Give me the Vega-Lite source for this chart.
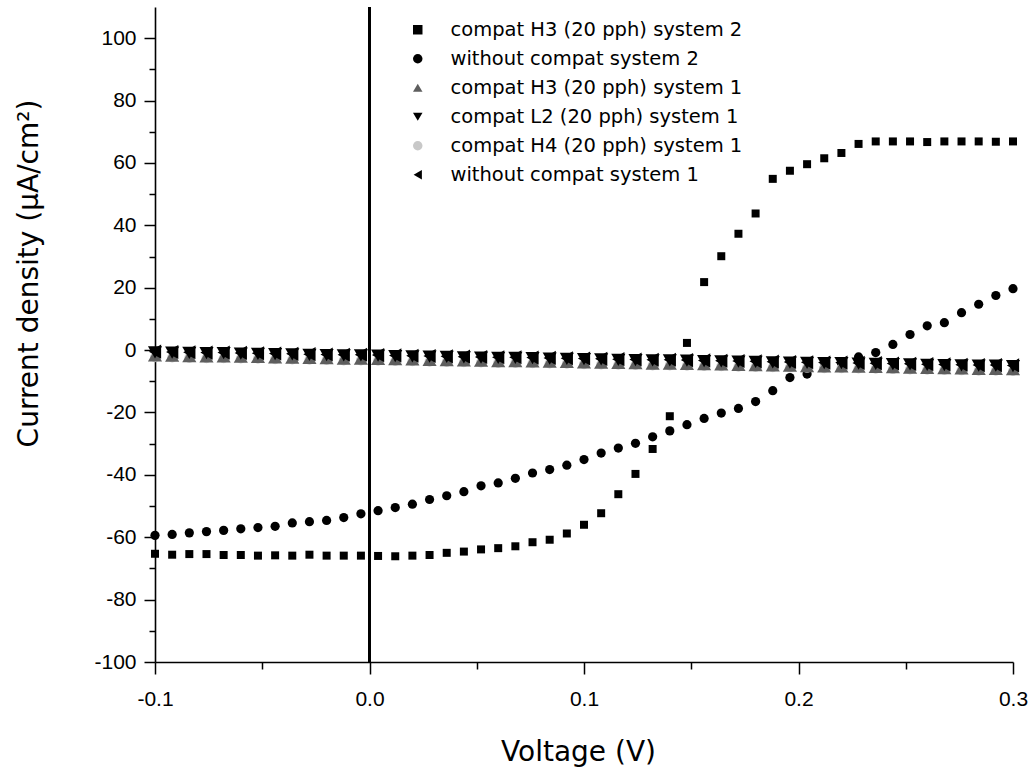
{
  "$schema": "https://vega.github.io/schema/vega-lite/v6.json",
  "autosize": {"type": "none"},
  "padding": {"left": 155, "top": 7, "right": 19, "bottom": 112},
  "width": 858,
  "height": 655,
  "background": "white",
  "config": {
    "view": {"stroke": null},
    "axis": {
      "grid": false,
      "domainColor": "black",
      "domainWidth": 1.6,
      "tickColor": "black",
      "tickWidth": 1.5,
      "labelColor": "black",
      "titleColor": "black",
      "labelFont": "Liberation Sans",
      "labelFontSize": 21,
      "titleFont": "DejaVu Sans",
      "titleFontSize": 28,
      "titleFontWeight": "normal"
    },
    "legend": {
      "labelFont": "DejaVu Sans",
      "labelFontSize": 19.5,
      "labelColor": "black",
      "labelLimit": 0,
      "symbolSize": 90
    }
  },
  "data": {
    "values": [
      {"series": "compat H3 (20 pph) system 2", "voltage": -0.1, "current": -65.3},
      {"series": "compat H3 (20 pph) system 2", "voltage": -0.092, "current": -65.6},
      {"series": "compat H3 (20 pph) system 2", "voltage": -0.084, "current": -65.4},
      {"series": "compat H3 (20 pph) system 2", "voltage": -0.076, "current": -65.4},
      {"series": "compat H3 (20 pph) system 2", "voltage": -0.068, "current": -65.7},
      {"series": "compat H3 (20 pph) system 2", "voltage": -0.06, "current": -65.7},
      {"series": "compat H3 (20 pph) system 2", "voltage": -0.052, "current": -65.9},
      {"series": "compat H3 (20 pph) system 2", "voltage": -0.044, "current": -65.8},
      {"series": "compat H3 (20 pph) system 2", "voltage": -0.036, "current": -65.9},
      {"series": "compat H3 (20 pph) system 2", "voltage": -0.028, "current": -65.6},
      {"series": "compat H3 (20 pph) system 2", "voltage": -0.02, "current": -65.9},
      {"series": "compat H3 (20 pph) system 2", "voltage": -0.012, "current": -65.9},
      {"series": "compat H3 (20 pph) system 2", "voltage": -0.004, "current": -65.9},
      {"series": "compat H3 (20 pph) system 2", "voltage": 0.004, "current": -66.0},
      {"series": "compat H3 (20 pph) system 2", "voltage": 0.012, "current": -66.1},
      {"series": "compat H3 (20 pph) system 2", "voltage": 0.02, "current": -65.9},
      {"series": "compat H3 (20 pph) system 2", "voltage": 0.028, "current": -65.7},
      {"series": "compat H3 (20 pph) system 2", "voltage": 0.036, "current": -65.0},
      {"series": "compat H3 (20 pph) system 2", "voltage": 0.044, "current": -64.6},
      {"series": "compat H3 (20 pph) system 2", "voltage": 0.052, "current": -63.9},
      {"series": "compat H3 (20 pph) system 2", "voltage": 0.06, "current": -63.5},
      {"series": "compat H3 (20 pph) system 2", "voltage": 0.068, "current": -62.9},
      {"series": "compat H3 (20 pph) system 2", "voltage": 0.076, "current": -61.6},
      {"series": "compat H3 (20 pph) system 2", "voltage": 0.084, "current": -60.8},
      {"series": "compat H3 (20 pph) system 2", "voltage": 0.092, "current": -58.8},
      {"series": "compat H3 (20 pph) system 2", "voltage": 0.1, "current": -56.0},
      {"series": "compat H3 (20 pph) system 2", "voltage": 0.108, "current": -52.3},
      {"series": "compat H3 (20 pph) system 2", "voltage": 0.116, "current": -46.2},
      {"series": "compat H3 (20 pph) system 2", "voltage": 0.124, "current": -39.7},
      {"series": "compat H3 (20 pph) system 2", "voltage": 0.132, "current": -31.7},
      {"series": "compat H3 (20 pph) system 2", "voltage": 0.14, "current": -21.2},
      {"series": "compat H3 (20 pph) system 2", "voltage": 0.148, "current": 2.3},
      {"series": "compat H3 (20 pph) system 2", "voltage": 0.156, "current": 21.8},
      {"series": "compat H3 (20 pph) system 2", "voltage": 0.164, "current": 30.1},
      {"series": "compat H3 (20 pph) system 2", "voltage": 0.172, "current": 37.3},
      {"series": "compat H3 (20 pph) system 2", "voltage": 0.18, "current": 43.8},
      {"series": "compat H3 (20 pph) system 2", "voltage": 0.188, "current": 54.9},
      {"series": "compat H3 (20 pph) system 2", "voltage": 0.196, "current": 57.5},
      {"series": "compat H3 (20 pph) system 2", "voltage": 0.204, "current": 59.6},
      {"series": "compat H3 (20 pph) system 2", "voltage": 0.212, "current": 61.5},
      {"series": "compat H3 (20 pph) system 2", "voltage": 0.22, "current": 63.2},
      {"series": "compat H3 (20 pph) system 2", "voltage": 0.228, "current": 66.1},
      {"series": "compat H3 (20 pph) system 2", "voltage": 0.236, "current": 66.9},
      {"series": "compat H3 (20 pph) system 2", "voltage": 0.244, "current": 66.9},
      {"series": "compat H3 (20 pph) system 2", "voltage": 0.252, "current": 66.9},
      {"series": "compat H3 (20 pph) system 2", "voltage": 0.26, "current": 66.7},
      {"series": "compat H3 (20 pph) system 2", "voltage": 0.268, "current": 66.9},
      {"series": "compat H3 (20 pph) system 2", "voltage": 0.276, "current": 66.9},
      {"series": "compat H3 (20 pph) system 2", "voltage": 0.284, "current": 66.9},
      {"series": "compat H3 (20 pph) system 2", "voltage": 0.292, "current": 66.8},
      {"series": "compat H3 (20 pph) system 2", "voltage": 0.3, "current": 66.9},

      {"series": "without compat system 2", "voltage": -0.1, "current": -59.4},
      {"series": "without compat system 2", "voltage": -0.092, "current": -59.1},
      {"series": "without compat system 2", "voltage": -0.084, "current": -58.6},
      {"series": "without compat system 2", "voltage": -0.076, "current": -58.2},
      {"series": "without compat system 2", "voltage": -0.068, "current": -57.8},
      {"series": "without compat system 2", "voltage": -0.06, "current": -57.3},
      {"series": "without compat system 2", "voltage": -0.052, "current": -56.9},
      {"series": "without compat system 2", "voltage": -0.044, "current": -56.5},
      {"series": "without compat system 2", "voltage": -0.036, "current": -55.4},
      {"series": "without compat system 2", "voltage": -0.028, "current": -55.0},
      {"series": "without compat system 2", "voltage": -0.02, "current": -54.6},
      {"series": "without compat system 2", "voltage": -0.012, "current": -53.7},
      {"series": "without compat system 2", "voltage": -0.004, "current": -52.5},
      {"series": "without compat system 2", "voltage": 0.004, "current": -51.5},
      {"series": "without compat system 2", "voltage": 0.012, "current": -50.5},
      {"series": "without compat system 2", "voltage": 0.02, "current": -49.4},
      {"series": "without compat system 2", "voltage": 0.028, "current": -47.9},
      {"series": "without compat system 2", "voltage": 0.036, "current": -46.7},
      {"series": "without compat system 2", "voltage": 0.044, "current": -45.4},
      {"series": "without compat system 2", "voltage": 0.052, "current": -43.5},
      {"series": "without compat system 2", "voltage": 0.06, "current": -42.6},
      {"series": "without compat system 2", "voltage": 0.068, "current": -41.1},
      {"series": "without compat system 2", "voltage": 0.076, "current": -39.4},
      {"series": "without compat system 2", "voltage": 0.084, "current": -38.3},
      {"series": "without compat system 2", "voltage": 0.092, "current": -36.9},
      {"series": "without compat system 2", "voltage": 0.1, "current": -35.1},
      {"series": "without compat system 2", "voltage": 0.108, "current": -33.0},
      {"series": "without compat system 2", "voltage": 0.116, "current": -31.4},
      {"series": "without compat system 2", "voltage": 0.124, "current": -29.9},
      {"series": "without compat system 2", "voltage": 0.132, "current": -27.8},
      {"series": "without compat system 2", "voltage": 0.14, "current": -25.9},
      {"series": "without compat system 2", "voltage": 0.148, "current": -23.9},
      {"series": "without compat system 2", "voltage": 0.156, "current": -21.9},
      {"series": "without compat system 2", "voltage": 0.164, "current": -20.2},
      {"series": "without compat system 2", "voltage": 0.172, "current": -18.7},
      {"series": "without compat system 2", "voltage": 0.18, "current": -16.5},
      {"series": "without compat system 2", "voltage": 0.188, "current": -13.0},
      {"series": "without compat system 2", "voltage": 0.196, "current": -8.8},
      {"series": "without compat system 2", "voltage": 0.204, "current": -7.7},
      {"series": "without compat system 2", "voltage": 0.212, "current": -5.6},
      {"series": "without compat system 2", "voltage": 0.22, "current": -4.2},
      {"series": "without compat system 2", "voltage": 0.228, "current": -2.2},
      {"series": "without compat system 2", "voltage": 0.236, "current": -0.8},
      {"series": "without compat system 2", "voltage": 0.244, "current": 1.8},
      {"series": "without compat system 2", "voltage": 0.252, "current": 5.0},
      {"series": "without compat system 2", "voltage": 0.26, "current": 7.8},
      {"series": "without compat system 2", "voltage": 0.268, "current": 8.8},
      {"series": "without compat system 2", "voltage": 0.276, "current": 12.0},
      {"series": "without compat system 2", "voltage": 0.284, "current": 14.7},
      {"series": "without compat system 2", "voltage": 0.292, "current": 17.5},
      {"series": "without compat system 2", "voltage": 0.3, "current": 19.7},

      {"series": "compat H4 (20 pph) system 1", "voltage": -0.1, "current": -2.3},
      {"series": "compat H4 (20 pph) system 1", "voltage": -0.092, "current": -2.4},
      {"series": "compat H4 (20 pph) system 1", "voltage": -0.084, "current": -2.5},
      {"series": "compat H4 (20 pph) system 1", "voltage": -0.076, "current": -2.6},
      {"series": "compat H4 (20 pph) system 1", "voltage": -0.068, "current": -2.6},
      {"series": "compat H4 (20 pph) system 1", "voltage": -0.06, "current": -2.7},
      {"series": "compat H4 (20 pph) system 1", "voltage": -0.052, "current": -2.8},
      {"series": "compat H4 (20 pph) system 1", "voltage": -0.044, "current": -2.9},
      {"series": "compat H4 (20 pph) system 1", "voltage": -0.036, "current": -3.0},
      {"series": "compat H4 (20 pph) system 1", "voltage": -0.028, "current": -3.1},
      {"series": "compat H4 (20 pph) system 1", "voltage": -0.02, "current": -3.2},
      {"series": "compat H4 (20 pph) system 1", "voltage": -0.012, "current": -3.3},
      {"series": "compat H4 (20 pph) system 1", "voltage": -0.004, "current": -3.3},
      {"series": "compat H4 (20 pph) system 1", "voltage": 0.004, "current": -3.4},
      {"series": "compat H4 (20 pph) system 1", "voltage": 0.012, "current": -3.5},
      {"series": "compat H4 (20 pph) system 1", "voltage": 0.02, "current": -3.6},
      {"series": "compat H4 (20 pph) system 1", "voltage": 0.028, "current": -3.7},
      {"series": "compat H4 (20 pph) system 1", "voltage": 0.036, "current": -3.8},
      {"series": "compat H4 (20 pph) system 1", "voltage": 0.044, "current": -3.9},
      {"series": "compat H4 (20 pph) system 1", "voltage": 0.052, "current": -4.0},
      {"series": "compat H4 (20 pph) system 1", "voltage": 0.06, "current": -4.1},
      {"series": "compat H4 (20 pph) system 1", "voltage": 0.068, "current": -4.1},
      {"series": "compat H4 (20 pph) system 1", "voltage": 0.076, "current": -4.2},
      {"series": "compat H4 (20 pph) system 1", "voltage": 0.084, "current": -4.3},
      {"series": "compat H4 (20 pph) system 1", "voltage": 0.092, "current": -4.4},
      {"series": "compat H4 (20 pph) system 1", "voltage": 0.1, "current": -4.5},
      {"series": "compat H4 (20 pph) system 1", "voltage": 0.108, "current": -4.6},
      {"series": "compat H4 (20 pph) system 1", "voltage": 0.116, "current": -4.7},
      {"series": "compat H4 (20 pph) system 1", "voltage": 0.124, "current": -4.8},
      {"series": "compat H4 (20 pph) system 1", "voltage": 0.132, "current": -4.9},
      {"series": "compat H4 (20 pph) system 1", "voltage": 0.14, "current": -4.9},
      {"series": "compat H4 (20 pph) system 1", "voltage": 0.148, "current": -5.0},
      {"series": "compat H4 (20 pph) system 1", "voltage": 0.156, "current": -5.1},
      {"series": "compat H4 (20 pph) system 1", "voltage": 0.164, "current": -5.2},
      {"series": "compat H4 (20 pph) system 1", "voltage": 0.172, "current": -5.3},
      {"series": "compat H4 (20 pph) system 1", "voltage": 0.18, "current": -5.4},
      {"series": "compat H4 (20 pph) system 1", "voltage": 0.188, "current": -5.5},
      {"series": "compat H4 (20 pph) system 1", "voltage": 0.196, "current": -5.6},
      {"series": "compat H4 (20 pph) system 1", "voltage": 0.204, "current": -5.7},
      {"series": "compat H4 (20 pph) system 1", "voltage": 0.212, "current": -5.8},
      {"series": "compat H4 (20 pph) system 1", "voltage": 0.22, "current": -5.8},
      {"series": "compat H4 (20 pph) system 1", "voltage": 0.228, "current": -5.9},
      {"series": "compat H4 (20 pph) system 1", "voltage": 0.236, "current": -6.0},
      {"series": "compat H4 (20 pph) system 1", "voltage": 0.244, "current": -6.1},
      {"series": "compat H4 (20 pph) system 1", "voltage": 0.252, "current": -6.2},
      {"series": "compat H4 (20 pph) system 1", "voltage": 0.26, "current": -6.3},
      {"series": "compat H4 (20 pph) system 1", "voltage": 0.268, "current": -6.4},
      {"series": "compat H4 (20 pph) system 1", "voltage": 0.276, "current": -6.5},
      {"series": "compat H4 (20 pph) system 1", "voltage": 0.284, "current": -6.6},
      {"series": "compat H4 (20 pph) system 1", "voltage": 0.292, "current": -6.6},
      {"series": "compat H4 (20 pph) system 1", "voltage": 0.3, "current": -6.7},

      {"series": "compat H3 (20 pph) system 1", "voltage": -0.1, "current": -1.7},
      {"series": "compat H3 (20 pph) system 1", "voltage": -0.092, "current": -1.8},
      {"series": "compat H3 (20 pph) system 1", "voltage": -0.084, "current": -1.9},
      {"series": "compat H3 (20 pph) system 1", "voltage": -0.076, "current": -2.0},
      {"series": "compat H3 (20 pph) system 1", "voltage": -0.068, "current": -2.0},
      {"series": "compat H3 (20 pph) system 1", "voltage": -0.06, "current": -2.1},
      {"series": "compat H3 (20 pph) system 1", "voltage": -0.052, "current": -2.2},
      {"series": "compat H3 (20 pph) system 1", "voltage": -0.044, "current": -2.3},
      {"series": "compat H3 (20 pph) system 1", "voltage": -0.036, "current": -2.4},
      {"series": "compat H3 (20 pph) system 1", "voltage": -0.028, "current": -2.5},
      {"series": "compat H3 (20 pph) system 1", "voltage": -0.02, "current": -2.6},
      {"series": "compat H3 (20 pph) system 1", "voltage": -0.012, "current": -2.7},
      {"series": "compat H3 (20 pph) system 1", "voltage": -0.004, "current": -2.7},
      {"series": "compat H3 (20 pph) system 1", "voltage": 0.004, "current": -2.8},
      {"series": "compat H3 (20 pph) system 1", "voltage": 0.012, "current": -2.9},
      {"series": "compat H3 (20 pph) system 1", "voltage": 0.02, "current": -3.0},
      {"series": "compat H3 (20 pph) system 1", "voltage": 0.028, "current": -3.1},
      {"series": "compat H3 (20 pph) system 1", "voltage": 0.036, "current": -3.2},
      {"series": "compat H3 (20 pph) system 1", "voltage": 0.044, "current": -3.3},
      {"series": "compat H3 (20 pph) system 1", "voltage": 0.052, "current": -3.4},
      {"series": "compat H3 (20 pph) system 1", "voltage": 0.06, "current": -3.5},
      {"series": "compat H3 (20 pph) system 1", "voltage": 0.068, "current": -3.5},
      {"series": "compat H3 (20 pph) system 1", "voltage": 0.076, "current": -3.6},
      {"series": "compat H3 (20 pph) system 1", "voltage": 0.084, "current": -3.7},
      {"series": "compat H3 (20 pph) system 1", "voltage": 0.092, "current": -3.8},
      {"series": "compat H3 (20 pph) system 1", "voltage": 0.1, "current": -3.9},
      {"series": "compat H3 (20 pph) system 1", "voltage": 0.108, "current": -4.0},
      {"series": "compat H3 (20 pph) system 1", "voltage": 0.116, "current": -4.1},
      {"series": "compat H3 (20 pph) system 1", "voltage": 0.124, "current": -4.2},
      {"series": "compat H3 (20 pph) system 1", "voltage": 0.132, "current": -4.3},
      {"series": "compat H3 (20 pph) system 1", "voltage": 0.14, "current": -4.3},
      {"series": "compat H3 (20 pph) system 1", "voltage": 0.148, "current": -4.4},
      {"series": "compat H3 (20 pph) system 1", "voltage": 0.156, "current": -4.5},
      {"series": "compat H3 (20 pph) system 1", "voltage": 0.164, "current": -4.6},
      {"series": "compat H3 (20 pph) system 1", "voltage": 0.172, "current": -4.7},
      {"series": "compat H3 (20 pph) system 1", "voltage": 0.18, "current": -4.8},
      {"series": "compat H3 (20 pph) system 1", "voltage": 0.188, "current": -4.9},
      {"series": "compat H3 (20 pph) system 1", "voltage": 0.196, "current": -5.0},
      {"series": "compat H3 (20 pph) system 1", "voltage": 0.204, "current": -5.1},
      {"series": "compat H3 (20 pph) system 1", "voltage": 0.212, "current": -5.2},
      {"series": "compat H3 (20 pph) system 1", "voltage": 0.22, "current": -5.2},
      {"series": "compat H3 (20 pph) system 1", "voltage": 0.228, "current": -5.3},
      {"series": "compat H3 (20 pph) system 1", "voltage": 0.236, "current": -5.4},
      {"series": "compat H3 (20 pph) system 1", "voltage": 0.244, "current": -5.5},
      {"series": "compat H3 (20 pph) system 1", "voltage": 0.252, "current": -5.6},
      {"series": "compat H3 (20 pph) system 1", "voltage": 0.26, "current": -5.7},
      {"series": "compat H3 (20 pph) system 1", "voltage": 0.268, "current": -5.8},
      {"series": "compat H3 (20 pph) system 1", "voltage": 0.276, "current": -5.9},
      {"series": "compat H3 (20 pph) system 1", "voltage": 0.284, "current": -6.0},
      {"series": "compat H3 (20 pph) system 1", "voltage": 0.292, "current": -6.0},
      {"series": "compat H3 (20 pph) system 1", "voltage": 0.3, "current": -6.1},

      {"series": "compat L2 (20 pph) system 1", "voltage": -0.1, "current": -0.7},
      {"series": "compat L2 (20 pph) system 1", "voltage": -0.092, "current": -0.8},
      {"series": "compat L2 (20 pph) system 1", "voltage": -0.084, "current": -0.9},
      {"series": "compat L2 (20 pph) system 1", "voltage": -0.076, "current": -1.0},
      {"series": "compat L2 (20 pph) system 1", "voltage": -0.068, "current": -1.0},
      {"series": "compat L2 (20 pph) system 1", "voltage": -0.06, "current": -1.1},
      {"series": "compat L2 (20 pph) system 1", "voltage": -0.052, "current": -1.2},
      {"series": "compat L2 (20 pph) system 1", "voltage": -0.044, "current": -1.3},
      {"series": "compat L2 (20 pph) system 1", "voltage": -0.036, "current": -1.4},
      {"series": "compat L2 (20 pph) system 1", "voltage": -0.028, "current": -1.5},
      {"series": "compat L2 (20 pph) system 1", "voltage": -0.02, "current": -1.6},
      {"series": "compat L2 (20 pph) system 1", "voltage": -0.012, "current": -1.7},
      {"series": "compat L2 (20 pph) system 1", "voltage": -0.004, "current": -1.7},
      {"series": "compat L2 (20 pph) system 1", "voltage": 0.004, "current": -1.8},
      {"series": "compat L2 (20 pph) system 1", "voltage": 0.012, "current": -1.9},
      {"series": "compat L2 (20 pph) system 1", "voltage": 0.02, "current": -2.0},
      {"series": "compat L2 (20 pph) system 1", "voltage": 0.028, "current": -2.1},
      {"series": "compat L2 (20 pph) system 1", "voltage": 0.036, "current": -2.2},
      {"series": "compat L2 (20 pph) system 1", "voltage": 0.044, "current": -2.3},
      {"series": "compat L2 (20 pph) system 1", "voltage": 0.052, "current": -2.4},
      {"series": "compat L2 (20 pph) system 1", "voltage": 0.06, "current": -2.5},
      {"series": "compat L2 (20 pph) system 1", "voltage": 0.068, "current": -2.5},
      {"series": "compat L2 (20 pph) system 1", "voltage": 0.076, "current": -2.6},
      {"series": "compat L2 (20 pph) system 1", "voltage": 0.084, "current": -2.7},
      {"series": "compat L2 (20 pph) system 1", "voltage": 0.092, "current": -2.8},
      {"series": "compat L2 (20 pph) system 1", "voltage": 0.1, "current": -2.9},
      {"series": "compat L2 (20 pph) system 1", "voltage": 0.108, "current": -3.0},
      {"series": "compat L2 (20 pph) system 1", "voltage": 0.116, "current": -3.1},
      {"series": "compat L2 (20 pph) system 1", "voltage": 0.124, "current": -3.2},
      {"series": "compat L2 (20 pph) system 1", "voltage": 0.132, "current": -3.3},
      {"series": "compat L2 (20 pph) system 1", "voltage": 0.14, "current": -3.3},
      {"series": "compat L2 (20 pph) system 1", "voltage": 0.148, "current": -3.4},
      {"series": "compat L2 (20 pph) system 1", "voltage": 0.156, "current": -3.5},
      {"series": "compat L2 (20 pph) system 1", "voltage": 0.164, "current": -3.6},
      {"series": "compat L2 (20 pph) system 1", "voltage": 0.172, "current": -3.7},
      {"series": "compat L2 (20 pph) system 1", "voltage": 0.18, "current": -3.8},
      {"series": "compat L2 (20 pph) system 1", "voltage": 0.188, "current": -3.9},
      {"series": "compat L2 (20 pph) system 1", "voltage": 0.196, "current": -4.0},
      {"series": "compat L2 (20 pph) system 1", "voltage": 0.204, "current": -4.1},
      {"series": "compat L2 (20 pph) system 1", "voltage": 0.212, "current": -4.2},
      {"series": "compat L2 (20 pph) system 1", "voltage": 0.22, "current": -4.2},
      {"series": "compat L2 (20 pph) system 1", "voltage": 0.228, "current": -4.3},
      {"series": "compat L2 (20 pph) system 1", "voltage": 0.236, "current": -4.4},
      {"series": "compat L2 (20 pph) system 1", "voltage": 0.244, "current": -4.5},
      {"series": "compat L2 (20 pph) system 1", "voltage": 0.252, "current": -4.6},
      {"series": "compat L2 (20 pph) system 1", "voltage": 0.26, "current": -4.7},
      {"series": "compat L2 (20 pph) system 1", "voltage": 0.268, "current": -4.8},
      {"series": "compat L2 (20 pph) system 1", "voltage": 0.276, "current": -4.9},
      {"series": "compat L2 (20 pph) system 1", "voltage": 0.284, "current": -5.0},
      {"series": "compat L2 (20 pph) system 1", "voltage": 0.292, "current": -5.0},
      {"series": "compat L2 (20 pph) system 1", "voltage": 0.3, "current": -5.1},

      {"series": "without compat system 1", "voltage": -0.1, "current": -0.5},
      {"series": "without compat system 1", "voltage": -0.092, "current": -0.6},
      {"series": "without compat system 1", "voltage": -0.084, "current": -0.7},
      {"series": "without compat system 1", "voltage": -0.076, "current": -0.8},
      {"series": "without compat system 1", "voltage": -0.068, "current": -0.8},
      {"series": "without compat system 1", "voltage": -0.06, "current": -0.9},
      {"series": "without compat system 1", "voltage": -0.052, "current": -1.0},
      {"series": "without compat system 1", "voltage": -0.044, "current": -1.1},
      {"series": "without compat system 1", "voltage": -0.036, "current": -1.2},
      {"series": "without compat system 1", "voltage": -0.028, "current": -1.3},
      {"series": "without compat system 1", "voltage": -0.02, "current": -1.4},
      {"series": "without compat system 1", "voltage": -0.012, "current": -1.5},
      {"series": "without compat system 1", "voltage": -0.004, "current": -1.5},
      {"series": "without compat system 1", "voltage": 0.004, "current": -1.6},
      {"series": "without compat system 1", "voltage": 0.012, "current": -1.7},
      {"series": "without compat system 1", "voltage": 0.02, "current": -1.8},
      {"series": "without compat system 1", "voltage": 0.028, "current": -1.9},
      {"series": "without compat system 1", "voltage": 0.036, "current": -2.0},
      {"series": "without compat system 1", "voltage": 0.044, "current": -2.1},
      {"series": "without compat system 1", "voltage": 0.052, "current": -2.2},
      {"series": "without compat system 1", "voltage": 0.06, "current": -2.3},
      {"series": "without compat system 1", "voltage": 0.068, "current": -2.3},
      {"series": "without compat system 1", "voltage": 0.076, "current": -2.4},
      {"series": "without compat system 1", "voltage": 0.084, "current": -2.5},
      {"series": "without compat system 1", "voltage": 0.092, "current": -2.6},
      {"series": "without compat system 1", "voltage": 0.1, "current": -2.7},
      {"series": "without compat system 1", "voltage": 0.108, "current": -2.8},
      {"series": "without compat system 1", "voltage": 0.116, "current": -2.9},
      {"series": "without compat system 1", "voltage": 0.124, "current": -3.0},
      {"series": "without compat system 1", "voltage": 0.132, "current": -3.1},
      {"series": "without compat system 1", "voltage": 0.14, "current": -3.1},
      {"series": "without compat system 1", "voltage": 0.148, "current": -3.2},
      {"series": "without compat system 1", "voltage": 0.156, "current": -3.3},
      {"series": "without compat system 1", "voltage": 0.164, "current": -3.4},
      {"series": "without compat system 1", "voltage": 0.172, "current": -3.5},
      {"series": "without compat system 1", "voltage": 0.18, "current": -3.6},
      {"series": "without compat system 1", "voltage": 0.188, "current": -3.7},
      {"series": "without compat system 1", "voltage": 0.196, "current": -3.8},
      {"series": "without compat system 1", "voltage": 0.204, "current": -3.9},
      {"series": "without compat system 1", "voltage": 0.212, "current": -4.0},
      {"series": "without compat system 1", "voltage": 0.22, "current": -4.0},
      {"series": "without compat system 1", "voltage": 0.228, "current": -4.1},
      {"series": "without compat system 1", "voltage": 0.236, "current": -4.2},
      {"series": "without compat system 1", "voltage": 0.244, "current": -4.3},
      {"series": "without compat system 1", "voltage": 0.252, "current": -4.4},
      {"series": "without compat system 1", "voltage": 0.26, "current": -4.5},
      {"series": "without compat system 1", "voltage": 0.268, "current": -4.6},
      {"series": "without compat system 1", "voltage": 0.276, "current": -4.7},
      {"series": "without compat system 1", "voltage": 0.284, "current": -4.8},
      {"series": "without compat system 1", "voltage": 0.292, "current": -4.8},
      {"series": "without compat system 1", "voltage": 0.3, "current": -4.9}
    ]
  },
  "layer": [
    {
      "mark": {"type": "rule", "color": "black", "strokeWidth": 1.2},
      "encoding": {
        "x": {"datum": 0, "type": "quantitative"}
      }
    },
    {
      "mark": {"type": "point", "filled": true, "opacity": 1},
      "encoding": {
        "x": {
          "field": "voltage",
          "type": "quantitative",
          "scale": {"domain": [-0.1, 0.3], "nice": false, "zero": false},
          "axis": {
            "title": "Voltage (V)",
            "values": [-0.1, -0.05, 0, 0.05, 0.1, 0.15, 0.2, 0.25, 0.3],
            "labelExpr": "abs(datum.value * 10 - round(datum.value * 10)) > 0.001 ? '' : (datum.value < -0.0001 ? '-' + format(-datum.value, '.1f') : format(abs(datum.value), '.1f'))",
            "tickSize": {"condition": {"test": "abs(datum.value * 10 - round(datum.value * 10)) < 0.001", "value": 12}, "value": 7},
            "labelFont": "Liberation Sans",
            "labelFontSize": 21,
            "labelPadding": 14,
            "labelFlush": false,
            "labelOverlap": false,
            "titleX": 423,
            "titleY": 98,
            "titleAlign": "center",
            "titleBaseline": "alphabetic"
          }
        },
        "y": {
          "field": "current",
          "type": "quantitative",
          "scale": {"domain": [-100, 110], "nice": false, "zero": false},
          "axis": {
            "title": "Current density (μA/cm²)",
            "values": [-100, -90, -80, -70, -60, -50, -40, -30, -20, -10, 0, 10, 20, 30, 40, 50, 60, 70, 80, 90, 100],
            "labelExpr": "datum.value % 20 !== 0 ? '' : (datum.value < 0 ? '-' + format(-datum.value, 'd') : format(datum.value, 'd'))",
            "tickSize": {"condition": {"test": "datum.value % 20 === 0", "value": 11}, "value": 6},
            "labelFont": "Liberation Sans",
            "labelFontSize": 21,
            "labelPadding": 8,
            "labelFlush": false,
            "labelOverlap": false,
            "titleX": -126,
            "titleY": 266,
            "titleAngle": -90,
            "titleAlign": "center",
            "titleBaseline": "middle"
          }
        },
        "shape": {
          "field": "series",
          "type": "nominal",
          "scale": {
            "domain": ["compat H3 (20 pph) system 2", "without compat system 2", "compat H3 (20 pph) system 1", "compat L2 (20 pph) system 1", "compat H4 (20 pph) system 1", "without compat system 1"],
            "range": ["square", "circle", "triangle-up", "triangle-down", "circle", "triangle-left"]
          },
          "legend": {
            "title": null,
            "orient": "none",
            "legendX": 253,
            "legendY": 13,
            "padding": 0,
            "labelOffset": 23,
            "labelFontSize": 19.5,
            "labelLimit": 0,
            "rowPadding": 8,
            "symbolSize": 90,
            "symbolStrokeWidth": 0
          }
        },
        "color": {
          "field": "series",
          "type": "nominal",
          "scale": {
            "domain": ["compat H3 (20 pph) system 2", "without compat system 2", "compat H3 (20 pph) system 1", "compat L2 (20 pph) system 1", "compat H4 (20 pph) system 1", "without compat system 1"],
            "range": ["#000000", "#000000", "#5e5e5e", "#000000", "#c8c8c8", "#000000"]
          },
          "legend": {
            "title": null,
            "orient": "none",
            "legendX": 253,
            "legendY": 13,
            "padding": 0,
            "labelOffset": 23,
            "labelFontSize": 19.5,
            "labelLimit": 0,
            "rowPadding": 8,
            "symbolSize": 90,
            "symbolStrokeWidth": 0
          }
        },
        "size": {
          "condition": [
            {"test": "datum.series === 'compat H3 (20 pph) system 2'", "value": 64},
            {"test": "datum.series === 'without compat system 2'", "value": 85},
            {"test": "datum.series === 'compat H4 (20 pph) system 1'", "value": 100}
          ],
          "value": 200
        }
      }
    }
  ]
}
